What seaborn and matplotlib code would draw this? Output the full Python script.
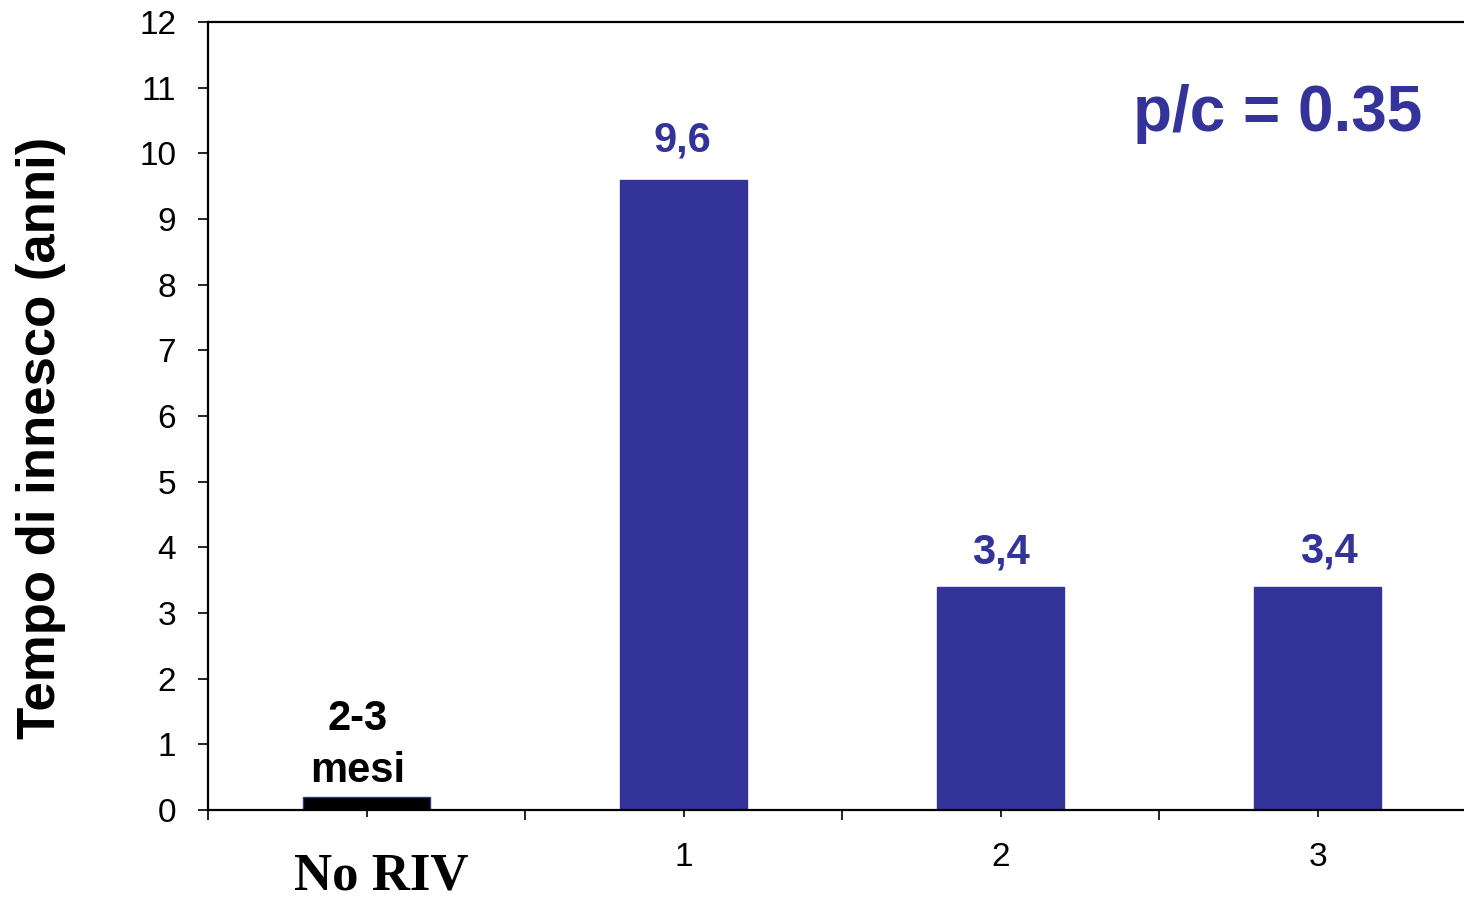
import matplotlib
matplotlib.use("Agg")
import matplotlib.pyplot as plt
import matplotlib.ticker as mticker
import seaborn as sns
import pandas as pd

# Data
categories = ["No RIV", "1", "2", "3"]
values = [0.2, 9.6, 3.4, 3.4]
bar_colors = ["#000000", "#333399", "#333399", "#333399"]
first_label = "2-3\nmesi"
tick_labels = ["", "1", "2", "3"]
y_ticks = list(range(0, 13))

BLUE = "#333399"

sns.set_theme(style="white")
plt.rcParams["font.family"] = ["Liberation Sans", "DejaVu Sans"]
plt.rcParams["text.color"] = "black"
plt.rcParams["xtick.color"] = "black"
plt.rcParams["ytick.color"] = "black"

fig = plt.figure(figsize=(14.64, 8.99), dpi=100)
ax = fig.add_axes([208 / 1464, 89 / 899, 1 - 208 / 1464, (810 - 22) / 899])

df = pd.DataFrame({"cat": categories, "val": values})
sns.barplot(data=df, x="cat", y="val", hue="cat", palette=bar_colors,
            width=0.4, legend=False, edgecolor=BLUE, linewidth=1.0,
            saturation=1, ax=ax)

ax.set_ylim(0, 12)
ax.set_xlim(-0.5, -0.5 + (1464 - 208) / 317.0)

# y axis
ax.yaxis.set_major_locator(mticker.FixedLocator(y_ticks))
ax.set_yticklabels([str(t) for t in y_ticks])
ax.tick_params(axis="y", which="major", direction="out", length=7, width=1.2,
               pad=16, labelsize=24, color="black", labelcolor="black", left=True)

# x axis: long ticks between categories, short ticks at the centres carry the labels
n = len(categories)
ax.xaxis.set_major_locator(mticker.FixedLocator([i - 0.5 for i in range(n + 1)]))
ax.xaxis.set_major_formatter(mticker.NullFormatter())
ax.xaxis.set_minor_locator(mticker.FixedLocator(list(range(n))))
ax.xaxis.set_minor_formatter(mticker.FixedFormatter(tick_labels))
ax.tick_params(axis="x", which="major", direction="out", length=7, width=1.2,
               color="black", bottom=True)
ax.tick_params(axis="x", which="minor", direction="out", length=5, width=1.2,
               pad=18, labelsize=24, color="black", labelcolor="black", bottom=True)

ax.set_xlabel("")
ax.set_ylabel("Tempo di innesco (anni)", fontsize=38, fontweight="bold",
              color="black")
ax.yaxis.set_label_coords(-0.113, 0.472)

for side in ["left", "bottom", "top"]:
    ax.spines[side].set_visible(True)
    ax.spines[side].set_color("black")
    ax.spines[side].set_linewidth(1.6)
ax.spines["right"].set_visible(False)
ax.grid(False)

# value labels (offsets in points above each bar)
label_offsets = [(-6.5, 4), (-1, 13.5), (0, 10), (8, 11)]
for i, v in enumerate(values):
    dx, dy = label_offsets[i]
    if i == 0:
        ax.annotate(first_label, xy=(i, v), xytext=(dx, dy),
                    textcoords="offset points", ha="center", va="bottom",
                    fontsize=30, fontweight="bold", color="black",
                    linespacing=1.4)
    else:
        ax.annotate(f"{v:.1f}".replace(".", ","), xy=(i, v), xytext=(dx, dy),
                    textcoords="offset points", ha="center", va="bottom",
                    fontsize=30, fontweight="bold", color=BLUE)

# first category name
fig.text(381 / 1464, 1 - 877 / 899, categories[0], ha="center", va="center",
         fontsize=38, fontweight="bold", family="Liberation Serif", color="black")

# ratio annotation
ax.text(1278 / 1464, 1 - 114 / 899, "p/c = 0.35", transform=fig.transFigure,
        ha="center", va="center", fontsize=46, fontweight="bold", color=BLUE)

fig.savefig("out.png", dpi=100)
